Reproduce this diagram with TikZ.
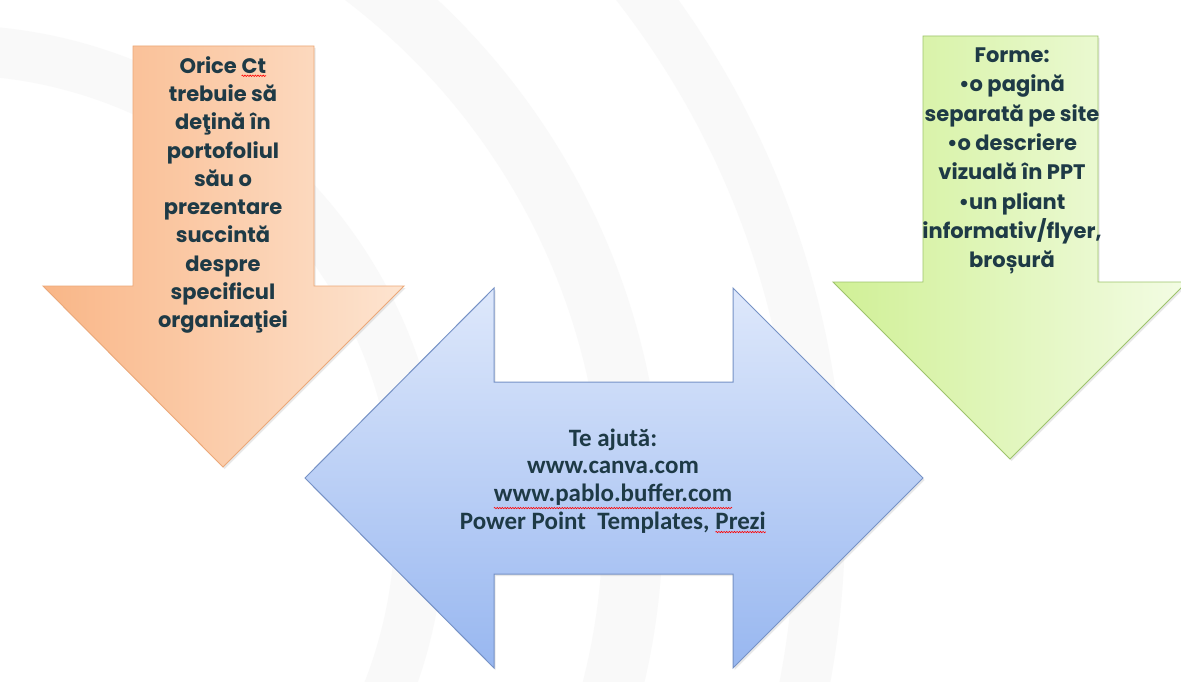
\documentclass[tikz,border=0pt]{standalone}
\usepackage{fontspec}
\usetikzlibrary{shadows,decorations.pathmorphing}
\newfontfamily\gothic{Poppins}
\newfontfamily\calib{Carlito}
\newcommand\redwave[1]{\tikz[baseline=(w.base)]{\node[inner sep=0pt,outer sep=0pt] (w) {#1};\draw[red, line width=0.6pt, decorate, decoration={snake, amplitude=0.7pt, segment length=2.6pt}] ([yshift=-2.5pt]w.south west) -- ([yshift=-2.5pt]w.south east);}}
\definecolor{txt}{RGB}{30,58,70}
\definecolor{orL}{RGB}{249,182,135}
\definecolor{orR}{RGB}{253,228,208}
\definecolor{orD}{RGB}{236,168,120}
\definecolor{grL}{RGB}{208,240,150}
\definecolor{grR}{RGB}{243,252,228}
\definecolor{grD}{RGB}{158,196,108}
\definecolor{blT}{RGB}{222,232,251}
\definecolor{blB}{RGB}{152,183,240}
\definecolor{blD}{RGB}{118,146,198}
\definecolor{wm}{RGB}{249,249,249}
\tikzset{
  arrshadow/.style={drop shadow={opacity=0.18, shadow xshift=1.5pt, shadow yshift=-2pt}},
  orarrow/.style={draw=orD, line width=0.9pt, left color=orL, right color=orR, arrshadow},
  grarrow/.style={draw=grD, line width=0.9pt, left color=grL, right color=grR, arrshadow},
  blarrow/.style={draw=blD, line width=1pt, top color=blT, bottom color=blB, arrshadow},
  gtext/.style={text=txt, align=center, font=\gothic\bfseries\fontsize{21}{28.3}\selectfont, inner sep=0pt},
  gtextb/.style={text=txt, align=center, font=\gothic\bfseries\fontsize{21}{29.3}\selectfont, inner sep=0pt},
  btext/.style={text=txt, align=center, font=\calib\bfseries\fontsize{25}{27.7}\selectfont, inner sep=0pt}
}
\begin{document}
\begin{tikzpicture}[x=1pt,y=-1pt]
\useasboundingbox (0,0) rectangle (1181,682);
\fill[white] (0,0) rectangle (1181,682);
\begin{scope}
\clip (0,0) rectangle (1181,682);
% faint watermark rings
\draw[wm, line width=60pt] (-50,520) circle (683);
\draw[wm, line width=50pt] (-50,520) circle (870);
\draw[wm, line width=50pt] (-50,520) circle (470);
% orange down arrow
\path[orarrow] (133,46) coordinate (o1) -- (314,46) -- (314,286) -- (404,286)
  -- (223,467) coordinate (otip) -- (43,286) -- (133,286) -- cycle;
% green down arrow
\path[grarrow] (923,36) coordinate (g1) -- (1098,36) -- (1098,282) -- (1187,282)
  -- (1010,459) coordinate (gtip) -- (833,282) -- (923,282) -- cycle;
% blue double arrow
\path[blarrow] (305,478) coordinate (bl) -- (494,288) -- (494,382) -- (733,382)
  -- (733,288) -- (923,478) coordinate (br) -- (733,668) -- (733,574)
  -- (494,574) -- (494,668) -- cycle;
\end{scope}
\node[gtext] (otext) at (223,195) {Orice \redwave{Ct}\\trebuie să\\deţină în\\portofoliul\\său o\\prezentare\\succintă\\despre\\specificul\\organizaţiei};
\node[gtextb] (gtext) at (1012,161) {Forme:\\•o pagină\\separată pe site\\•o descriere\\vizuală în PPT\\•un pliant\\informativ/flyer,\\broșură};
\node[btext] (btext) at (613,481) {Te ajută:\\www.canva.com\\\redwave{www.pablo.buffer.com}\\Power Point\ \ Templates, \redwave{Prezi}};
\end{tikzpicture}
\end{document}
